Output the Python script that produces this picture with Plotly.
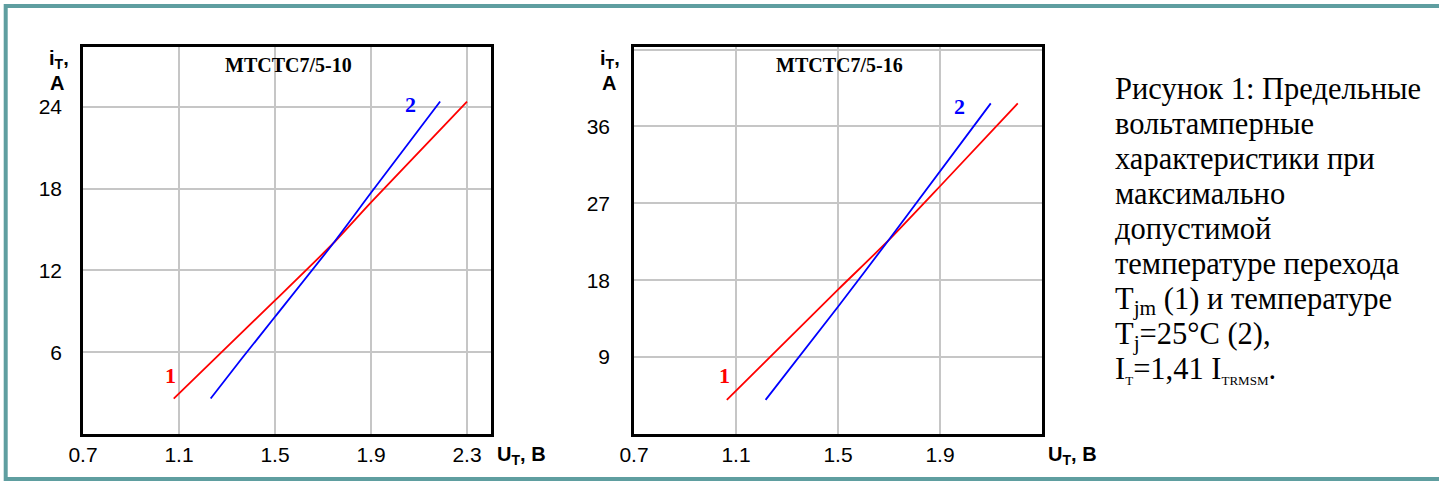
import plotly.graph_objects as go

W, H = 1439, 481

# ---- data ----
# Chart 1: МТСТС7/5-10
u1_red = [1.078, 1.5, 1.743, 1.9, 2.30]
i1_red = [2.6, 9.8, 14.0, 17.0, 24.4]
u1_blue = [1.232, 1.36, 1.5, 1.743, 1.9, 2.188]
i1_blue = [2.6, 5.5, 8.6, 14.0, 17.7, 24.4]
x1_ticks = [0.7, 1.1, 1.5, 1.9, 2.3]
x1_ticktext = ["0.7", "1.1", "1.5", "1.9", "2.3"]
y1_ticks = [6, 12, 18, 24]

# Chart 2: МТСТС7/5-16
u2_red = [1.064, 1.5, 1.696, 1.9, 2.205]
i2_red = [4.0, 16.9, 22.6, 29.0, 38.7]
u2_blue = [1.216, 1.5, 1.696, 2.099]
i2_blue = [4.0, 14.9, 22.6, 38.7]
x2_ticks = [0.7, 1.1, 1.5, 1.9, 2.3]
x2_ticktext = ["0.7", "1.1", "1.5", "1.9", ""]
y2_ticks = [9, 18, 27, 36, 45]
y2_ticktext = ["9", "18", "27", "36", ""]

titles = ["МТСТС7/5-10", "МТСТС7/5-16"]
caption_lines = [
    "Рисунок 1: Предельные",
    "вольтамперные",
    "характеристики при",
    "максимально",
    "допустимой",
    "температуре перехода",
    "T<sub>jm</sub> (1) и температуре",
    "T<sub>j</sub>=25°C (2),",
    "I<sub><span style='font-size:13px'>T</span></sub>=1,41 I<sub><span style='font-size:13px'>TRMSM</span></sub>.",
]

RED = "#ff0000"
BLUE = "#0000ff"
SANS = "Liberation Sans, Arial, sans-serif"
SERIF = "Liberation Serif, Times New Roman, serif"


def px(x):
    return x / W


def py(y):
    return 1 - y / H


fig = go.Figure()

line_kw = dict(width=1.8, shape="spline", smoothing=0.6)
fig.add_trace(go.Scatter(x=u1_red, y=i1_red, mode="lines", line=dict(color=RED, **line_kw),
                         xaxis="x", yaxis="y", showlegend=False, hoverinfo="skip"))
fig.add_trace(go.Scatter(x=u1_blue, y=i1_blue, mode="lines", line=dict(color=BLUE, **line_kw),
                         xaxis="x", yaxis="y", showlegend=False, hoverinfo="skip"))
fig.add_trace(go.Scatter(x=u2_red, y=i2_red, mode="lines", line=dict(color=RED, **line_kw),
                         xaxis="x2", yaxis="y2", showlegend=False, hoverinfo="skip"))
fig.add_trace(go.Scatter(x=u2_blue, y=i2_blue, mode="lines", line=dict(color=BLUE, **line_kw),
                         xaxis="x2", yaxis="y2", showlegend=False, hoverinfo="skip"))

axis_common = dict(
    showline=True, linecolor="black", linewidth=2.5, mirror=True,
    showgrid=True, gridcolor="#c6c6c6", gridwidth=2,
    zeroline=False, ticks="", fixedrange=True, automargin=False,
    tickfont=dict(family=SANS, size=21, color="black"),
)

ydom = [py(434), py(47)]

fig.update_layout(
    width=W, height=H, autosize=False,
    margin=dict(l=0, r=0, t=0, b=0, pad=0),
    paper_bgcolor="white", plot_bgcolor="white",
    showlegend=False,
    xaxis=dict(domain=[px(83), px(491)], range=[0.7, 2.4], tickvals=x1_ticks, ticktext=x1_ticktext,
               anchor="y", ticklabelstandoff=0, **axis_common),
    yaxis=dict(domain=ydom, range=[0, 28.4], tickvals=y1_ticks, anchor="x",
               ticklabelstandoff=14, **axis_common),
    xaxis2=dict(domain=[px(634), px(1042)], range=[0.7, 2.3], tickvals=x2_ticks, ticktext=x2_ticktext,
                anchor="y2", ticklabelstandoff=0, **axis_common),
    yaxis2=dict(domain=ydom, range=[0, 45.3], tickvals=y2_ticks, ticktext=y2_ticktext, anchor="x2",
                ticklabelstandoff=17, **axis_common),
)

ann = []
# chart titles
for xc, t in [(288.6, titles[0]), (839.6, titles[1])]:
    ann.append(dict(text="<b>%s</b>" % t, xref="paper", yref="paper", x=px(xc), y=py(65),
                    xanchor="center", yanchor="middle", showarrow=False,
                    font=dict(family=SERIF, size=20, color="black"), borderpad=0))
# curve labels
ann += [
    dict(text="<b>1</b>", xref="x", yref="y", x=1.066, y=4.3, font=dict(family=SERIF, size=22, color=RED)),
    dict(text="<b>2</b>", xref="x", yref="y", x=2.065, y=24.2, font=dict(family=SERIF, size=22, color=BLUE)),
    dict(text="<b>1</b>", xref="x2", yref="y2", x=1.055, y=6.9, font=dict(family=SERIF, size=22, color=RED)),
    dict(text="<b>2</b>", xref="x2", yref="y2", x=1.975, y=38.3, font=dict(family=SERIF, size=22, color=BLUE)),
]
for a in ann[-4:]:
    a.update(showarrow=False, xanchor="center", yanchor="middle", borderpad=0)

# axis titles
for xi, xa in [(59, 57), (610, 609)]:
    ann.append(dict(text="<b>i<sub>T</sub>,</b>", xref="paper", yref="paper", x=px(xi), y=py(59),
                    xanchor="center", yanchor="middle", showarrow=False, borderpad=0,
                    font=dict(family=SANS, size=20, color="black")))
    ann.append(dict(text="<b>А</b>", xref="paper", yref="paper", x=px(xa), y=py(83),
                    xanchor="center", yanchor="middle", showarrow=False, borderpad=0,
                    font=dict(family=SANS, size=20, color="black")))
for xl in [496, 1047]:
    ann.append(dict(text="<b>U<sub>T</sub>, В</b>", xref="paper", yref="paper", x=px(xl), y=py(455),
                    xanchor="left", yanchor="middle", showarrow=False, borderpad=0,
                    font=dict(family=SANS, size=20, color="black")))

# caption
for k, line in enumerate(caption_lines):
    base = 98 + 35 * k
    ann.append(dict(text=line, xref="paper", yref="paper", x=px(1114), y=py(base - 27),
                    xanchor="left", yanchor="top", showarrow=False, borderpad=0,
                    font=dict(family=SERIF, size=30.5, color="black")))

fig.update_layout(annotations=ann)

# outer teal frame
fig.add_shape(type="rect", xref="paper", yref="paper",
              x0=px(5.7), x1=px(W + 20), y0=py(479), y1=py(6),
              line=dict(color="#5f9ea0", width=4), fillcolor="rgba(0,0,0,0)", layer="above")

fig.write_html("out.html", config={"displayModeBar": False},
               post_script="document.body.style.margin='0';document.body.style.overflow='hidden';")
